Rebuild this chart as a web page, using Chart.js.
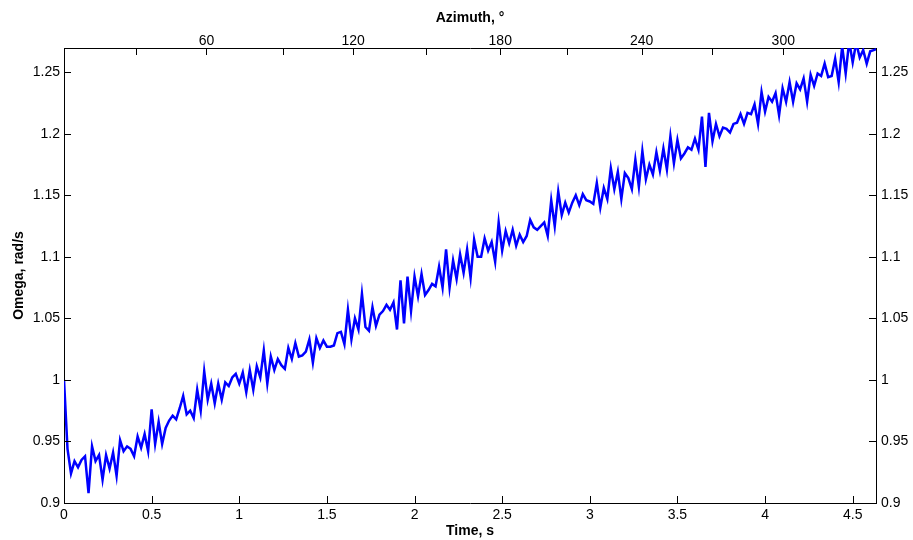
<!DOCTYPE html>
<html>
<head>
<meta charset="utf-8">
<script src="https://cdn.jsdelivr.net/npm/chart.js@4/dist/chart.umd.min.js"></script>
<style>
  html, body { margin: 0; padding: 0; background: #fff; }
  #wrap { width: 913px; height: 540px; }
</style>
</head>
<body>
<div id="wrap"><canvas id="c" width="913" height="540"></canvas></div>
<script>
// ---- data ----
const timeStep = 0.02; // sampling interval, s
const omega = [
  1.000, 0.944, 0.924, 0.934, 0.929, 0.935, 0.938, 0.908, 0.946, 0.934,
  0.939, 0.919, 0.939, 0.928, 0.941, 0.922, 0.951, 0.942, 0.946, 0.944,
  0.938, 0.954, 0.945, 0.956, 0.942, 0.976, 0.948, 0.966, 0.948, 0.961,
  0.967, 0.971, 0.968, 0.977, 0.987, 0.972, 0.975, 0.969, 0.992, 0.975,
  1.007, 0.984, 0.997, 0.981, 0.997, 0.984, 0.998, 0.995, 1.002, 1.005,
  0.997, 1.006, 0.990, 1.008, 0.992, 1.011, 1.002, 1.024, 0.997, 1.019,
  1.008, 1.017, 1.012, 1.009, 1.026, 1.017, 1.030, 1.019, 1.020, 1.023,
  1.033, 1.014, 1.034, 1.026, 1.032, 1.027, 1.027, 1.028, 1.038, 1.039,
  1.029, 1.057, 1.033, 1.050, 1.041, 1.070, 1.043, 1.040, 1.059, 1.044,
  1.053, 1.056, 1.061, 1.057, 1.063, 1.041, 1.081, 1.046, 1.084, 1.056,
  1.084, 1.068, 1.086, 1.069, 1.073, 1.078, 1.076, 1.092, 1.075, 1.106,
  1.075, 1.097, 1.082, 1.102, 1.087, 1.106, 1.083, 1.114, 1.100, 1.100,
  1.115, 1.105, 1.112, 1.096, 1.128, 1.105, 1.121, 1.111, 1.122, 1.109,
  1.118, 1.112, 1.117, 1.130, 1.124, 1.122, 1.125, 1.128, 1.117, 1.146,
  1.125, 1.153, 1.134, 1.144, 1.136, 1.144, 1.150, 1.142, 1.151, 1.146,
  1.145, 1.143, 1.160, 1.140, 1.156, 1.147, 1.172, 1.155, 1.169, 1.147,
  1.168, 1.164, 1.155, 1.179, 1.157, 1.186, 1.163, 1.175, 1.167, 1.185,
  1.170, 1.188, 1.171, 1.198, 1.176, 1.195, 1.180, 1.184, 1.189, 1.187,
  1.196, 1.187, 1.214, 1.173, 1.217, 1.194, 1.208, 1.198, 1.205, 1.204,
  1.201, 1.208, 1.209, 1.216, 1.208, 1.217, 1.216, 1.224, 1.208, 1.234,
  1.218, 1.230, 1.226, 1.233, 1.215, 1.237, 1.226, 1.242, 1.226, 1.241,
  1.236, 1.245, 1.226, 1.248, 1.239, 1.249, 1.247, 1.257, 1.246, 1.247,
  1.261, 1.242, 1.271, 1.249, 1.275, 1.258, 1.274, 1.262, 1.268, 1.257,
  1.267, 1.268, 1.269
];
const times = omega.map((_, i) => Math.round(i * timeStep * 1000) / 1000);

const timeTicks = [0, 0.5, 1, 1.5, 2, 2.5, 3, 3.5, 4, 4.5];
const omegaTicks = [0.9, 0.95, 1, 1.05, 1.1, 1.15, 1.2, 1.25];
// azimuth ticks (positions on the time axis, s) and their labels
const azimuthTickTimes = [0.413, 0.813, 1.250, 1.650, 2.063, 2.489, 2.871, 3.296, 3.695, 4.104];
const azimuthTickLabels = ['', '60', '', '120', '', '180', '', '240', '', '300'];

const timeMin = 0, timeMax = 4.633;
const omegaMin = 0.9, omegaMax = 1.2697;

// ---- chart ----
const FONT = { family: '"Liberation Sans", Arial, Helvetica, sans-serif', size: 14 };
const BOLD = { family: '"Liberation Sans", Arial, Helvetica, sans-serif', size: 14, weight: 'bold' };
const fmt = v => String(Math.round(v * 1000) / 1000);

// MATLAB-style inward tick marks on all four sides
const inwardTicks = {
  id: 'inwardTicks',
  afterDraw(chart) {
    const ctx = chart.ctx;
    const a = chart.chartArea;
    const sc = chart.scales;
    const L = 7;
    ctx.save();
    ctx.strokeStyle = '#000';
    ctx.lineWidth = 1;
    ctx.beginPath();
    omegaTicks.forEach(v => {
      const p = Math.round(sc.y.getPixelForValue(v)) + 0.5;
      ctx.moveTo(a.left, p); ctx.lineTo(a.left + L, p);
      ctx.moveTo(a.right, p); ctx.lineTo(a.right - L, p);
    });
    timeTicks.forEach(v => {
      const p = Math.round(sc.x.getPixelForValue(v)) + 0.5;
      ctx.moveTo(p, a.bottom); ctx.lineTo(p, a.bottom - L);
    });
    azimuthTickTimes.forEach(v => {
      const p = Math.round(sc.x2.getPixelForValue(v)) + 0.5;
      ctx.moveTo(p, a.top); ctx.lineTo(p, a.top + L);
    });
    ctx.stroke();
    ctx.restore();
  }
};

const axisCommon = {
  type: 'linear',
  grid: { display: false, drawTicks: false },
  border: { display: true, color: '#000', width: 1 },
};

new Chart(document.getElementById('c'), {
  type: 'line',
  data: {
    datasets: [{
      data: times.map((t, i) => ({ x: t, y: omega[i] })),
      borderColor: '#0000ff',
      borderWidth: 2.5,
      pointRadius: 0,
      tension: 0,
      fill: false,
      xAxisID: 'x',
      yAxisID: 'y'
    }]
  },
  options: {
    responsive: false,
    animation: false,
    devicePixelRatio: 1,
    layout: { padding: 0 },
    plugins: { legend: { display: false }, tooltip: { enabled: false }, title: { display: false } },
    scales: {
      x: {
        ...axisCommon, position: 'bottom', min: timeMin, max: timeMax,
        afterBuildTicks: s => { s.ticks = timeTicks.map(v => ({ value: v })); },
        afterFit: s => { s.height = 37; },
        ticks: { font: FONT, color: '#000', padding: 4, maxRotation: 0, autoSkip: false, callback: v => fmt(v) },
        title: { display: true, text: 'Time, s', font: BOLD, color: '#000', padding: { top: 0, bottom: 0 } }
      },
      x2: {
        ...axisCommon, position: 'top', min: timeMin, max: timeMax,
        afterBuildTicks: s => { s.ticks = azimuthTickTimes.map(v => ({ value: v })); },
        afterFit: s => { s.height = 48; },
        ticks: { font: FONT, color: '#000', padding: -2, maxRotation: 0, autoSkip: false,
                 callback: (v, i) => azimuthTickLabels[i] },
        title: { display: true, text: 'Azimuth, °', font: BOLD, color: '#000', padding: { top: 10, bottom: 0 } }
      },
      y: {
        ...axisCommon, position: 'left', min: omegaMin, max: omegaMax,
        afterBuildTicks: s => { s.ticks = omegaTicks.map(v => ({ value: v })); },
        afterFit: s => { s.width = 64; },
        ticks: { font: FONT, color: '#000', padding: 4, autoSkip: false, callback: v => fmt(v) },
        title: { display: true, text: 'Omega, rad/s', font: BOLD, color: '#000', padding: { top: 11, bottom: 0 } }
      },
      y2: {
        ...axisCommon, position: 'right', min: omegaMin, max: omegaMax,
        afterBuildTicks: s => { s.ticks = omegaTicks.map(v => ({ value: v })); },
        afterFit: s => { s.width = 37; },
        ticks: { font: FONT, color: '#000', padding: 5, autoSkip: false, callback: v => fmt(v) }
      }
    }
  },
  plugins: [inwardTicks]
});
</script>
</body>
</html>
